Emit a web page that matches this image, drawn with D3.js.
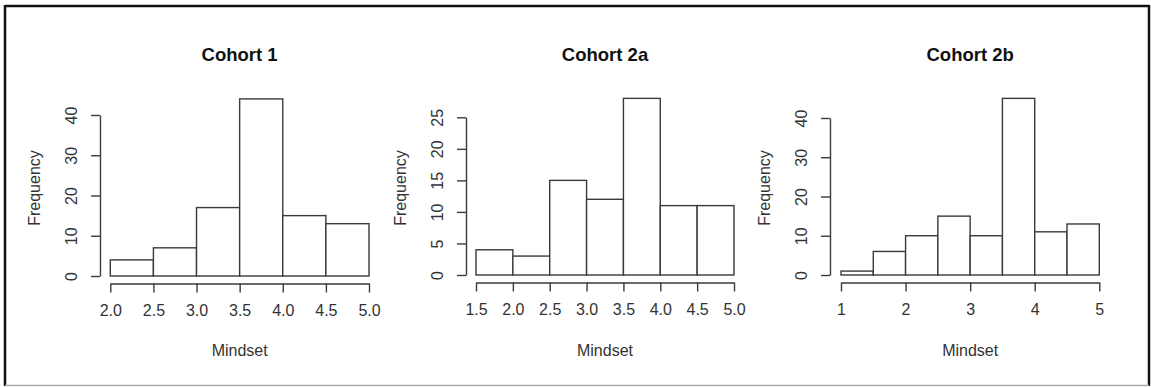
<!DOCTYPE html>
<html>
<head>
<meta charset="utf-8">
<script src="https://cdn.jsdelivr.net/npm/d3@7"></script>
<style>
  html, body { margin: 0; padding: 0; background: #fff; }
  svg { display: block; }
  text { font-family: "Liberation Sans", Arial, Helvetica, sans-serif; }
</style>
</head>
<body>
<svg id="chart" width="1151" height="387"></svg>
<script>
// Histogram data: bin edges and counts per cohort
const cohort1Breaks = [2.0, 2.5, 3.0, 3.5, 4.0, 4.5, 5.0];
const cohort1Counts = [4, 7, 17, 44, 15, 13];
const cohort1XTicks = [2.0, 2.5, 3.0, 3.5, 4.0, 4.5, 5.0];
const cohort1YTicks = [0, 10, 20, 30, 40];

const cohort2aBreaks = [1.5, 2.0, 2.5, 3.0, 3.5, 4.0, 4.5, 5.0];
const cohort2aCounts = [4, 3, 15, 12, 28, 11, 11];
const cohort2aXTicks = [1.5, 2.0, 2.5, 3.0, 3.5, 4.0, 4.5, 5.0];
const cohort2aYTicks = [0, 5, 10, 15, 20, 25];

const cohort2bBreaks = [1.0, 1.5, 2.0, 2.5, 3.0, 3.5, 4.0, 4.5, 5.0];
const cohort2bCounts = [1, 6, 10, 15, 10, 45, 11, 13];
const cohort2bXTicks = [1, 2, 3, 4, 5];
const cohort2bYTicks = [0, 10, 20, 30, 40];

const titles = ["Cohort 1", "Cohort 2a", "Cohort 2b"];
const xLabel = "Mindset";
const yLabel = "Frequency";

// Panel layout (pixel geometry of each plot region)
const panels = [
  { title: titles[0], breaks: cohort1Breaks, counts: cohort1Counts, xTicks: cohort1XTicks, yTicks: cohort1YTicks,
    xFmt: d3.format(".1f"), x0: 110.3, x1: 369, yBase: 276, yTop: 115, yAxisX: 100 },
  { title: titles[1], breaks: cohort2aBreaks, counts: cohort2aCounts, xTicks: cohort2aXTicks, yTicks: cohort2aYTicks,
    xFmt: d3.format(".1f"), x0: 476, x1: 734, yBase: 275, yTop: 117.3, yAxisX: 466 },
  { title: titles[2], breaks: cohort2bBreaks, counts: cohort2bCounts, xTicks: cohort2bXTicks, yTicks: cohort2bYTicks,
    xFmt: d3.format("d"), x0: 841, x1: 1099.3, yBase: 275, yTop: 118, yAxisX: 830 }
];

const svg = d3.select("#chart");
const ink = "#3a3a3a";

// Outer frame
svg.append("line").attr("x1", 5).attr("x2", 1149).attr("y1", 6).attr("y2", 6)
  .attr("stroke", "#111").attr("stroke-width", 2.5);
svg.append("line").attr("x1", 5).attr("x2", 5).attr("y1", 5).attr("y2", 386)
  .attr("stroke", "#111").attr("stroke-width", 2.5);
svg.append("line").attr("x1", 1149).attr("x2", 1149).attr("y1", 5).attr("y2", 386)
  .attr("stroke", "#111").attr("stroke-width", 2.5);
svg.append("line").attr("x1", 5).attr("x2", 1149).attr("y1", 385.5).attr("y2", 385.5)
  .attr("stroke", "#aaa").attr("stroke-width", 1.5);

panels.forEach(p => {
  const g = svg.append("g");
  const xDom = [p.xTicks[0], p.xTicks[p.xTicks.length - 1]];
  const yDom = [p.yTicks[0], p.yTicks[p.yTicks.length - 1]];
  const x = d3.scaleLinear().domain(xDom).range([p.x0, p.x1]);
  const y = d3.scaleLinear().domain(yDom).range([p.yBase, p.yTop]);

  // Bars
  const bins = p.counts.map((c, i) => ({ a: p.breaks[i], b: p.breaks[i + 1], c }));
  g.selectAll("rect.bar").data(bins).join("rect")
    .attr("class", "bar")
    .attr("x", d => x(d.a))
    .attr("width", d => x(d.b) - x(d.a))
    .attr("y", d => y(d.c))
    .attr("height", d => y(0) - y(d.c))
    .attr("fill", "#fff")
    .attr("stroke", ink)
    .attr("stroke-width", 1.4);

  // X axis, offset below the plot region
  const xAxis = g.append("g")
    .attr("transform", `translate(0,${p.yBase + 7.5})`)
    .call(d3.axisBottom(x).tickValues(p.xTicks).tickFormat(p.xFmt).tickSize(9).tickSizeOuter(0).tickPadding(12));
  xAxis.select(".domain").attr("stroke", ink).attr("stroke-width", 1.4);
  xAxis.selectAll(".tick line").attr("stroke", ink).attr("stroke-width", 1.4);
  xAxis.selectAll(".tick text").attr("fill", "#333").style("font-size", "16px")
    .style("font-family", "'Liberation Sans', Arial, sans-serif");

  // Y axis with rotated labels
  const yAxis = g.append("g")
    .attr("transform", `translate(${p.yAxisX},0)`)
    .call(d3.axisLeft(y).tickValues(p.yTicks).tickFormat(d3.format("d")).tickSize(9).tickSizeOuter(0));
  yAxis.select(".domain").attr("stroke", ink).attr("stroke-width", 1.4);
  yAxis.selectAll(".tick line").attr("stroke", ink).attr("stroke-width", 1.4);
  yAxis.selectAll(".tick text")
    .attr("x", null).attr("dy", null)
    .attr("transform", "translate(-23,0) rotate(-90)")
    .attr("text-anchor", "middle")
    .attr("fill", "#333").style("font-size", "16px")
    .style("font-family", "'Liberation Sans', Arial, sans-serif");

  const cx = (p.x0 + p.x1) / 2;

  // Title
  g.append("text").attr("x", cx).attr("y", 61)
    .attr("text-anchor", "middle").attr("font-weight", "bold")
    .style("font-size", "18.5px").attr("fill", "#111").text(p.title);

  // Axis titles
  g.append("text").attr("x", cx).attr("y", 356)
    .attr("text-anchor", "middle").style("font-size", "16px").attr("fill", "#333").text(xLabel);
  g.append("text")
    .attr("transform", `translate(${p.yAxisX - 60},188) rotate(-90)`)
    .attr("text-anchor", "middle").style("font-size", "16px").attr("fill", "#333").text(yLabel);
});
</script>
</body>
</html>
